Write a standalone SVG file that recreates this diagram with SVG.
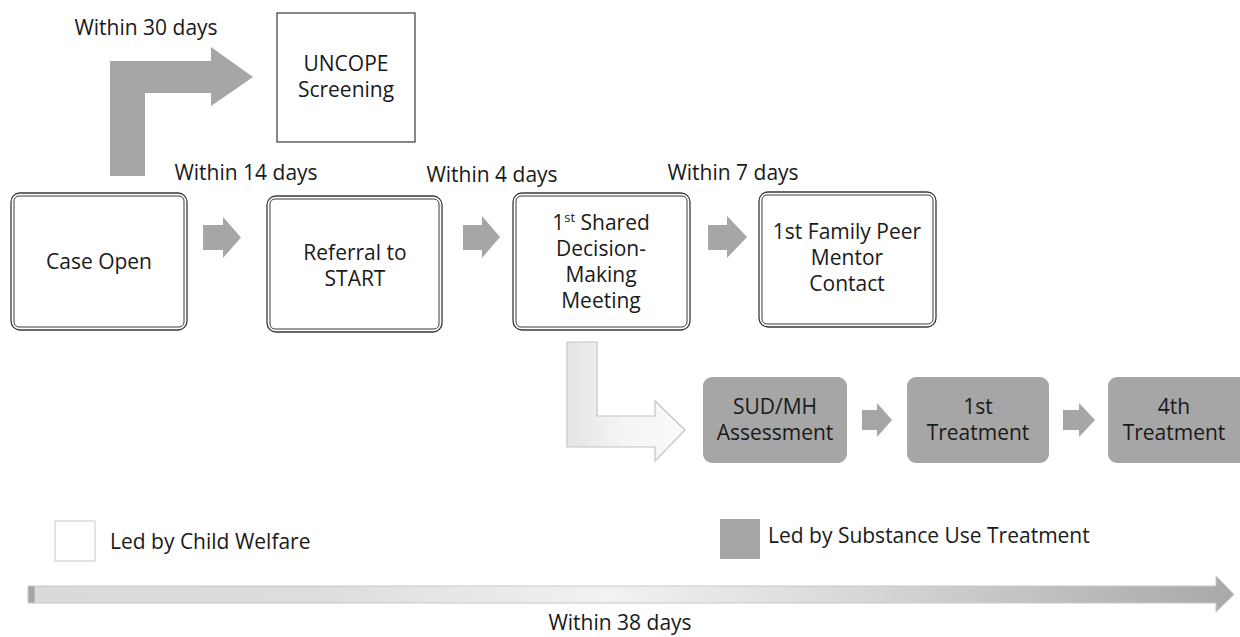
<svg xmlns="http://www.w3.org/2000/svg" width="1240" height="637" viewBox="0 0 1240 637">
<style>
text{font-family:"Open Sans","Noto Sans","Liberation Sans",sans-serif;font-size:21px;fill:#1a1a1a;text-anchor:middle}
.lbl{text-anchor:start}
.outer{fill:#fff;stroke:#3a3a3a;stroke-width:1.3}
.inner{fill:none;stroke:#3a3a3a;stroke-width:1}
.solid{fill:#a6a6a6}
.sud{fill:#a6a6a6}
</style>
<defs>
<linearGradient id="lg" x1="0" y1="0" x2="1" y2="0">
<stop offset="0" stop-color="#e4e4e4"/>
<stop offset="0.45" stop-color="#f4f4f4"/>
<stop offset="1" stop-color="#fafafa"/>
</linearGradient>
<linearGradient id="tg" x1="28" y1="0" x2="1234" y2="0" gradientUnits="userSpaceOnUse">
<stop offset="0" stop-color="#a6a6a6"/>
<stop offset="0.005" stop-color="#a6a6a6"/>
<stop offset="0.006" stop-color="#dadada"/>
<stop offset="0.25" stop-color="#dddddd"/>
<stop offset="0.48" stop-color="#f2f2f2"/>
<stop offset="0.7" stop-color="#d6d6d6"/>
<stop offset="1" stop-color="#a8a8a8"/>
</linearGradient>
</defs>

<g id="connectors">
<path class="solid" d="M110,176 L110,61 L211,61 L211,47 L253,77 L211,106 L211,93 L145,93 L145,176 Z"/>
<path class="solid" d="M203,225 L223,225 L223,217 L241,237.5 L223,258 L223,250 L203,250 Z"/>
<path class="solid" d="M463,225 L482,225 L482,216 L500,237 L482,258 L482,250 L463,250 Z"/>
<path class="solid" d="M708,225 L727,225 L727,216 L747,237 L727,258 L727,250 L708,250 Z"/>
<path fill="url(#lg)" stroke="#c4c4c4" stroke-width="1.2" d="M567,342 L597,342 L597,416 L655,416 L655,401 L685,430 L655,461 L655,447 L567,447 Z"/>
<path class="solid" d="M862,410 L877,410 L877,403 L892,420 L877,437 L877,430 L862,430 Z"/>
<path class="solid" d="M1063,410 L1079,410 L1079,403 L1095,420 L1079,437 L1079,430 L1063,430 Z"/>
<path fill="url(#tg)" stroke="#c8c8c8" stroke-width="1" d="M28,586 L1216,586 L1216,576 L1234,594.5 L1216,612 L1216,603 L28,603 Z"/>
</g>

<g id="uncope">
<rect x="277" y="13" width="138" height="129" fill="#fff" stroke="#3a3a3a" stroke-width="1.2"/>
<text x="346" y="71">UNCOPE</text>
<text x="346" y="97">Screening</text>
</g>

<g id="case-open">
<rect class="outer" x="11" y="193" width="176" height="137" rx="9"/>
<rect class="inner" x="14" y="196" width="170" height="131" rx="5"/>
<text x="99" y="269">Case Open</text>
</g>

<g id="referral">
<rect class="outer" x="267" y="196" width="175" height="136" rx="9"/>
<rect class="inner" x="270" y="199" width="169" height="130" rx="5"/>
<text x="355" y="260">Referral to</text>
<text x="355" y="286">START</text>
</g>

<g id="shared">
<rect class="outer" x="513" y="193" width="177" height="137" rx="9"/>
<rect class="inner" x="516" y="196" width="171" height="131" rx="5"/>
<text x="601" y="230">1<tspan font-size="13" dy="-8">st</tspan><tspan dy="8"> Shared</tspan></text>
<text x="601" y="256">Decision-</text>
<text x="601" y="282">Making</text>
<text x="601" y="308">Meeting</text>
</g>

<g id="family">
<rect class="outer" x="759" y="192" width="177" height="135" rx="9"/>
<rect class="inner" x="762" y="195" width="171" height="129" rx="5"/>
<text x="847" y="239">1st Family Peer</text>
<text x="847" y="265">Mentor</text>
<text x="847" y="291">Contact</text>
</g>

<g id="sud">
<rect class="sud" x="703" y="377" width="144" height="86" rx="9"/>
<text x="775" y="414">SUD/MH</text>
<text x="775" y="440">Assessment</text>
</g>

<g id="treat1">
<rect class="sud" x="907" y="377" width="142" height="86" rx="9"/>
<text x="978" y="414">1st</text>
<text x="978" y="440">Treatment</text>
</g>

<g id="treat4">
<rect class="sud" x="1108" y="377" width="142" height="86" rx="9"/>
<text x="1174" y="414">4th</text>
<text x="1174" y="440">Treatment</text>
</g>

<g id="labels">
<text x="146" y="35">Within 30 days</text>
<text x="246" y="180">Within 14 days</text>
<text x="492" y="182">Within 4 days</text>
<text x="733" y="180">Within 7 days</text>
<text x="620" y="630">Within 38 days</text>
</g>

<g id="legend">
<rect x="55" y="521" width="40" height="40" fill="#fff" stroke="#c8c8c8" stroke-width="1"/>
<text class="lbl" x="110" y="549">Led by Child Welfare</text>
<rect x="720" y="519" width="40" height="40" fill="#a6a6a6"/>
<text class="lbl" x="768" y="543">Led by Substance Use Treatment</text>
</g>
</svg>
